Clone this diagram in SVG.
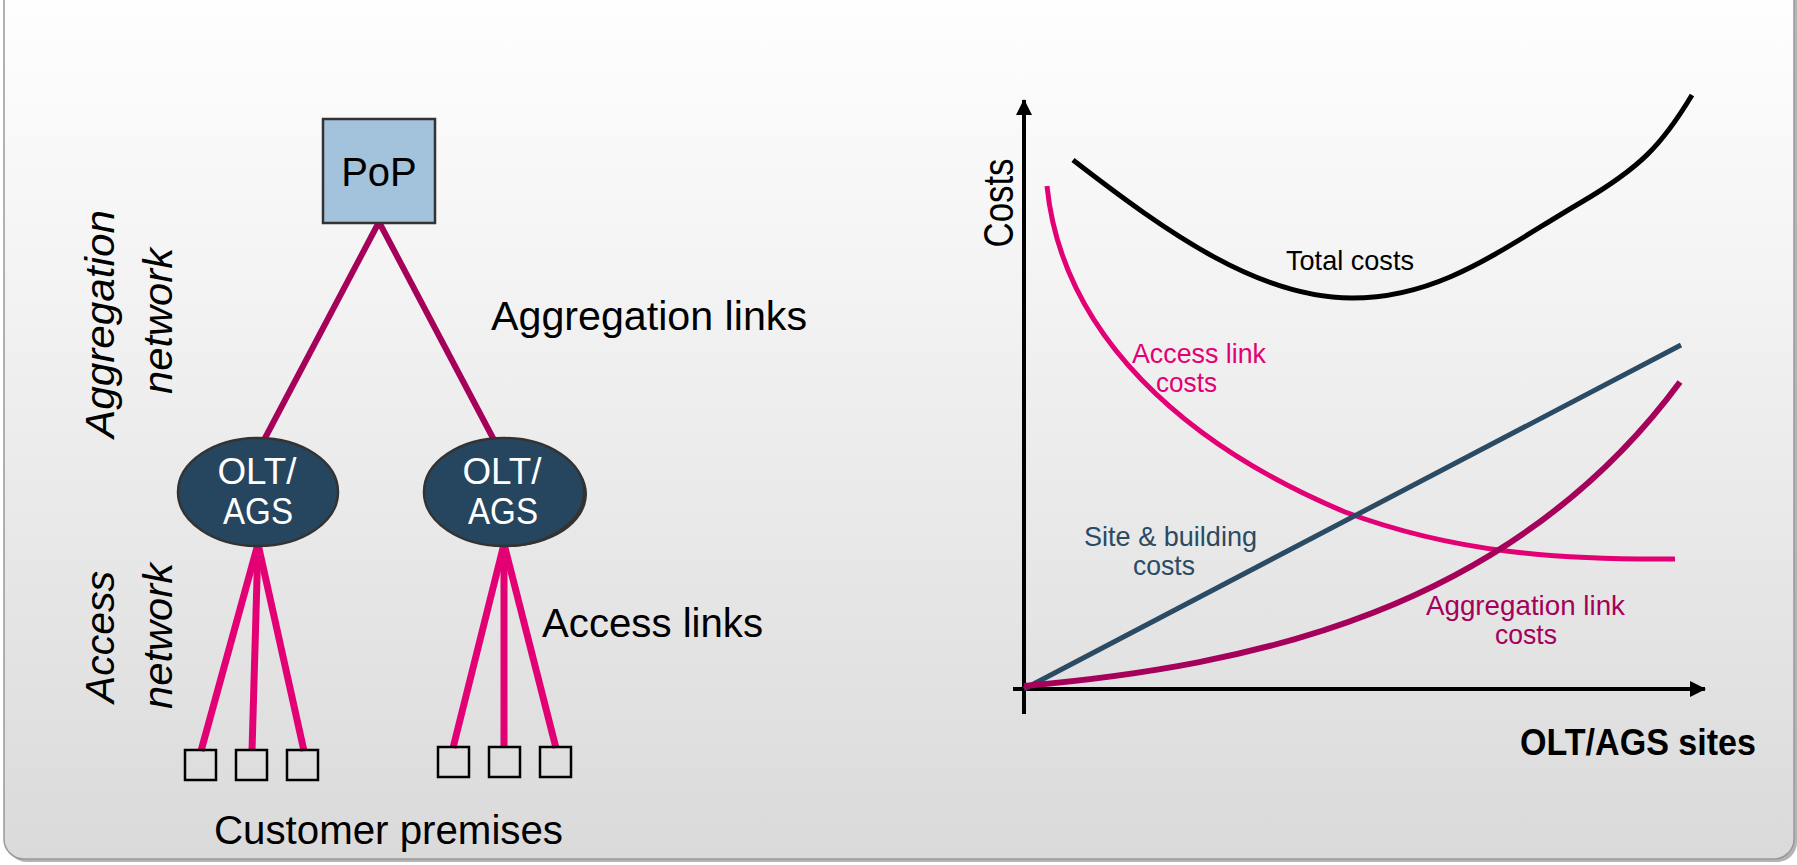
<svg xmlns="http://www.w3.org/2000/svg" width="1797" height="865" viewBox="0 0 1797 865">
<defs>
<linearGradient id="bg" x1="0" y1="0" x2="0" y2="1">
<stop offset="0" stop-color="#ffffff"/>
<stop offset="0.25" stop-color="#f7f7f7"/>
<stop offset="1" stop-color="#dadada"/>
</linearGradient>
<marker id="arr" viewBox="0 0 16 16" refX="15" refY="8" markerWidth="16" markerHeight="16" markerUnits="userSpaceOnUse" orient="auto">
<path d="M0,0 L16,8 L0,16 Z" fill="#000"/>
</marker>
<style>
text{font-family:"Liberation Sans",Arial,sans-serif}
.lbl{font-size:40px;fill:#000}
.ital{font-size:40px;font-style:italic;fill:#000}
.node-txt{font-size:37px;fill:#fff;text-anchor:middle}
.agg{stroke:#a5005a;stroke-width:6;fill:none}
.acc{stroke:#e20074;stroke-width:7;fill:none}
.cust{fill:none;stroke:#000;stroke-width:2.5}
.axis{stroke:#000;stroke-width:4;fill:none}
.small{font-size:28px}
</style>
</defs>
<rect x="7" y="-30" width="1790" height="892" rx="20" fill="#b4b4b4"/>
<rect x="4" y="-30" width="1790" height="889" rx="20" fill="url(#bg)" stroke="#999" stroke-width="1.5"/>

<g id="connectors">
<line class="agg" x1="379" y1="222" x2="264" y2="440"/>
<line class="agg" x1="379" y1="222" x2="494" y2="440"/>
<line class="acc" x1="258" y1="544" x2="201" y2="751"/>
<line class="acc" x1="258" y1="544" x2="252" y2="751"/>
<line class="acc" x1="258" y1="544" x2="304" y2="751"/>
<line class="acc" x1="504" y1="544" x2="453" y2="748"/>
<line class="acc" x1="504" y1="544" x2="504" y2="748"/>
<line class="acc" x1="504" y1="544" x2="556" y2="748"/>
</g>

<g id="pop">
<rect x="323" y="119" width="112" height="104" fill="#a3c2dc" stroke="#333" stroke-width="2.5"/>
<text x="379" y="186" class="lbl" text-anchor="middle">PoP</text>
</g>

<g id="olt-left">
<ellipse cx="258" cy="492" rx="80" ry="54" fill="#26465f" stroke="#333" stroke-width="2.5"/>
<text x="257" y="484" class="node-txt" textLength="79" lengthAdjust="spacingAndGlyphs">OLT/</text>
<text x="258" y="524" class="node-txt" textLength="70" lengthAdjust="spacingAndGlyphs">AGS</text>
</g>

<g id="olt-right">
<ellipse cx="507" cy="494" rx="80" ry="53" fill="#333"/>
<ellipse cx="504" cy="492" rx="80" ry="54" fill="#26465f" stroke="#333" stroke-width="2.5"/>
<text x="502" y="484" class="node-txt" textLength="79" lengthAdjust="spacingAndGlyphs">OLT/</text>
<text x="503" y="524" class="node-txt" textLength="70" lengthAdjust="spacingAndGlyphs">AGS</text>
</g>

<g id="customers-left">
<rect class="cust" x="185" y="750" width="31" height="30"/>
<rect class="cust" x="236" y="750" width="31" height="30"/>
<rect class="cust" x="287" y="750" width="31" height="30"/>
</g>
<g id="customers-right">
<rect class="cust" x="438" y="747" width="31" height="30"/>
<rect class="cust" x="489" y="747" width="31" height="30"/>
<rect class="cust" x="540" y="747" width="31" height="30"/>
</g>

<g id="left-labels">
<text x="491" y="330" class="lbl" textLength="316" lengthAdjust="spacingAndGlyphs">Aggregation links</text>
<text x="542" y="637" class="lbl" textLength="221" lengthAdjust="spacingAndGlyphs">Access links</text>
<text x="214" y="844" class="lbl" textLength="349" lengthAdjust="spacingAndGlyphs">Customer premises</text>
<text transform="translate(114,324) rotate(-90)" class="ital" text-anchor="middle" textLength="228" lengthAdjust="spacingAndGlyphs">Aggregation</text>
<text transform="translate(172,321) rotate(-90)" class="ital" text-anchor="middle" textLength="146" lengthAdjust="spacingAndGlyphs">network</text>
<text transform="translate(114,637) rotate(-90)" class="ital" text-anchor="middle" textLength="132" lengthAdjust="spacingAndGlyphs">Access</text>
<text transform="translate(172,636) rotate(-90)" class="ital" text-anchor="middle" textLength="146" lengthAdjust="spacingAndGlyphs">network</text>
</g>

<g id="chart">
<line class="axis" x1="1024" y1="714" x2="1024" y2="100" marker-end="url(#arr)"/>
<line class="axis" x1="1013" y1="689" x2="1705" y2="689" marker-end="url(#arr)"/>
<path d="M1073,160 C1170,235 1260,298 1352,298 C1440,298 1500,250 1580,203 C1640,168 1662,145 1692,95" fill="none" stroke="#000" stroke-width="5"/>
<path d="M1047,186 C1062,335 1185,445 1345,512 C1455,553 1560,560 1675,559" fill="none" stroke="#e20074" stroke-width="5"/>
<line x1="1024" y1="689" x2="1681" y2="345" stroke="#2b4a63" stroke-width="5"/>
<path d="M1024,686 C1250,666 1510,612 1680,382" fill="none" stroke="#a5005a" stroke-width="6"/>
<text transform="translate(1013,203) rotate(-90)" font-size="43" text-anchor="middle" textLength="89" lengthAdjust="spacingAndGlyphs">Costs</text>
<text x="1520" y="755" font-size="36" font-weight="bold" textLength="236" lengthAdjust="spacingAndGlyphs">OLT/AGS sites</text>
<text x="1286" y="270" class="small" textLength="128" lengthAdjust="spacingAndGlyphs">Total costs</text>
<text x="1132" y="363" class="small" fill="#e20074" textLength="134" lengthAdjust="spacingAndGlyphs">Access link</text>
<text x="1156" y="392" class="small" fill="#e20074" textLength="61" lengthAdjust="spacingAndGlyphs">costs</text>
<text x="1084" y="546" class="small" fill="#2b4a63" textLength="173" lengthAdjust="spacingAndGlyphs">Site &amp; building</text>
<text x="1133" y="575" class="small" fill="#2b4a63" textLength="62" lengthAdjust="spacingAndGlyphs">costs</text>
<text x="1426" y="615" class="small" fill="#a5005a" textLength="199" lengthAdjust="spacingAndGlyphs">Aggregation link</text>
<text x="1495" y="644" class="small" fill="#a5005a" textLength="62" lengthAdjust="spacingAndGlyphs">costs</text>
</g>
</svg>
